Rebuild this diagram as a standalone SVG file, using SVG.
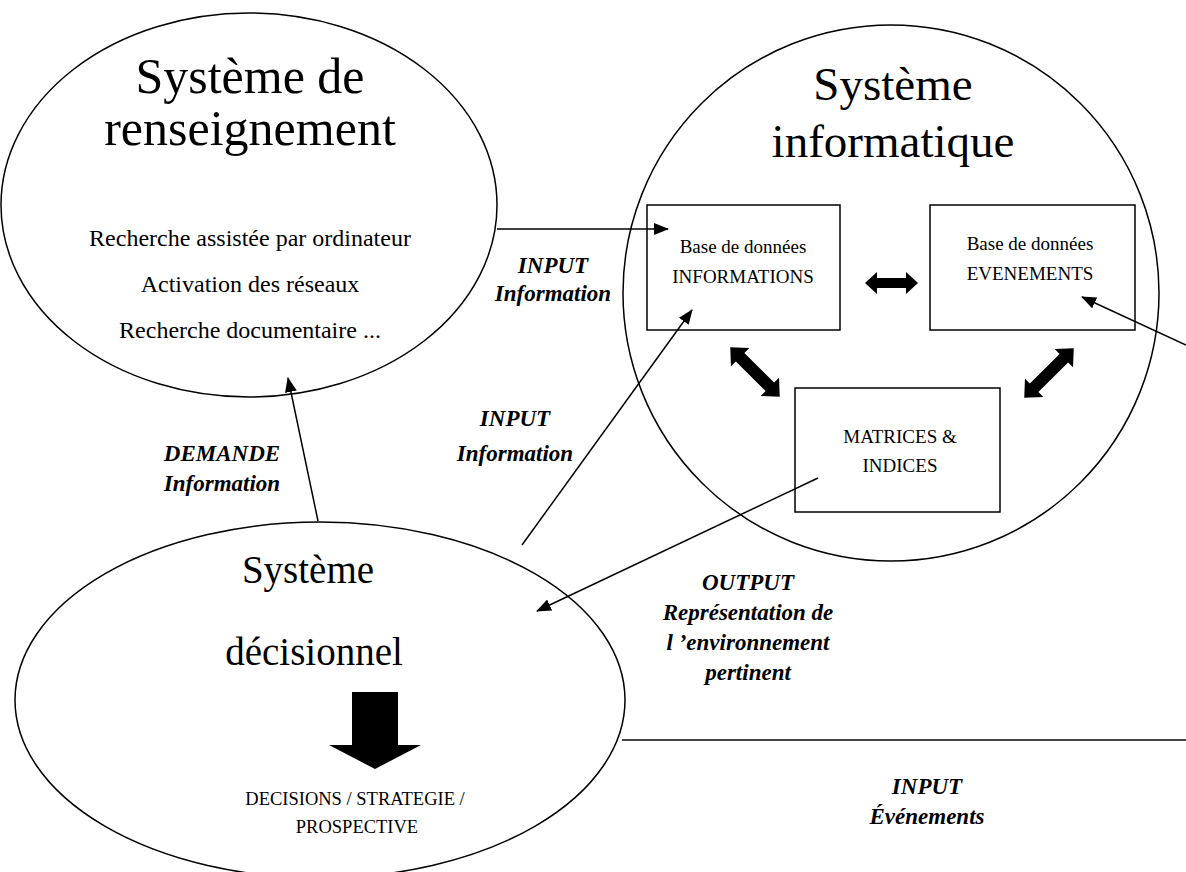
<svg xmlns="http://www.w3.org/2000/svg" width="1186" height="872" viewBox="0 0 1186 872">
<defs>
<marker id="ah" markerWidth="15" markerHeight="12" refX="14" refY="6" orient="auto" markerUnits="userSpaceOnUse">
<path d="M0,0 L15,6 L0,12 Z" fill="#000"/>
</marker>
<style>
.sh{fill:#fff;stroke:#000;stroke-width:1.5}
.bx{fill:#fff;stroke:#000;stroke-width:1.5}
.t{font-family:"Liberation Serif",serif;fill:#000;text-anchor:middle}
.med{font-size:24px}
.sm{font-size:19px}
.lb{font-family:"Liberation Serif",serif;font-weight:bold;font-style:italic;font-size:23px;text-anchor:middle;fill:#000}
.ln{stroke:#000;stroke-width:1.5;fill:none}
</style>
</defs>
<rect width="1186" height="872" fill="#fff"/>

<g id="renseignement">
<ellipse class="sh" cx="249" cy="205" rx="248" ry="192"/>
<text class="t" font-size="50" x="250" y="93">Système de</text>
<text class="t" font-size="50" x="250" y="145">renseignement</text>
<text class="t med" x="250" y="246">Recherche assistée par ordinateur</text>
<text class="t med" x="250" y="292">Activation des réseaux</text>
<text class="t med" x="250" y="338">Recherche documentaire ...</text>
</g>

<g id="informatique">
<circle class="sh" cx="891" cy="293" r="268"/>
<text class="t" font-size="47" x="893" y="100">Système</text>
<text class="t" font-size="47" x="893" y="157">informatique</text>
</g>

<g id="decisionnel">
<ellipse class="sh" cx="320" cy="700" rx="305" ry="178"/>
<text class="t" font-size="39" x="308" y="583">Système</text>
<text class="t" font-size="39" x="314" y="665">décisionnel</text>
<path d="M352,692 L398,692 L398,745 L421,745 L375,769 L329,745 L352,745 Z" fill="#000"/>
<text class="t" font-size="18.5" x="355" y="805">DECISIONS / STRATEGIE /</text>
<text class="t" font-size="18.5" x="357" y="833">PROSPECTIVE</text>
</g>

<g id="box-informations">
<rect class="bx" x="647" y="205" width="193" height="125"/>
<text class="t sm" x="743" y="253">Base de données</text>
<text class="t sm" x="743" y="283">INFORMATIONS</text>
</g>

<g id="box-evenements">
<rect class="bx" x="930" y="205" width="205" height="125"/>
<text class="t sm" x="1030" y="250">Base de données</text>
<text class="t sm" x="1030" y="280">EVENEMENTS</text>
</g>

<g id="box-matrices">
<rect class="bx" x="795" y="388" width="205" height="124"/>
<text class="t sm" x="900" y="443">MATRICES &amp;</text>
<text class="t sm" x="900" y="472">INDICES</text>
</g>

<g id="connectors">
<line class="ln" x1="497" y1="229" x2="668" y2="229" marker-end="url(#ah)"/>
<line class="ln" x1="522" y1="545" x2="692" y2="310" marker-end="url(#ah)"/>
<line class="ln" x1="318" y1="521" x2="288" y2="378" marker-end="url(#ah)"/>
<line class="ln" x1="818" y1="478" x2="537" y2="611" marker-end="url(#ah)"/>
<line class="ln" x1="1186" y1="345" x2="1082" y2="297" marker-end="url(#ah)"/>
<line x1="622" y1="740" x2="1186" y2="740" stroke="#444" stroke-width="2"/>
<path d="M865,283 L877,272 L877,278 L906,278 L906,272 L918,283 L906,294 L906,288 L877,288 L877,294 Z" fill="#000"/>
<g transform="translate(755,372) rotate(45)">
<path d="M-35,0 L-21,-13 L-21,-6 L21,-6 L21,-13 L35,0 L21,13 L21,6 L-21,6 L-21,13 Z" fill="#000"/>
</g>
<g transform="translate(1049,373) rotate(-45)">
<path d="M-35,0 L-21,-13 L-21,-6 L21,-6 L21,-13 L35,0 L21,13 L21,6 L-21,6 L-21,13 Z" fill="#000"/>
</g>
</g>

<g id="labels">
<text class="lb" x="553" y="273">INPUT</text>
<text class="lb" x="553" y="301">Information</text>
<text class="lb" x="515" y="426">INPUT</text>
<text class="lb" x="515" y="461">Information</text>
<text class="lb" x="222" y="461">DEMANDE</text>
<text class="lb" x="222" y="491">Information</text>
<text class="lb" x="748" y="590">OUTPUT</text>
<text class="lb" x="748" y="620">Représentation de</text>
<text class="lb" x="748" y="650">l ’environnement</text>
<text class="lb" x="748" y="680">pertinent</text>
<text class="lb" font-size="25" x="927" y="794">INPUT</text>
<text class="lb" font-size="25" x="927" y="824">Événements</text>
</g>
</svg>
